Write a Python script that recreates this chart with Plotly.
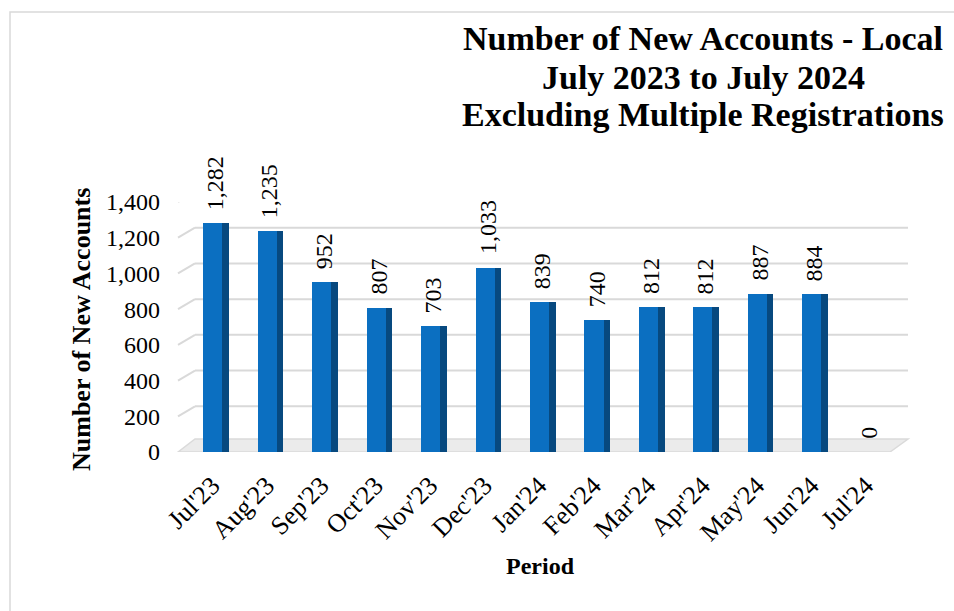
import plotly.graph_objects as go

categories = ["Jul'23", "Aug'23", "Sep'23", "Oct'23", "Nov'23", "Dec'23", "Jan'24",
              "Feb'24", "Mar'24", "Apr'24", "May'24", "Jun'24", "Jul'24"]
new_accounts = [1282, 1235, 952, 807, 703, 1033, 839, 740, 812, 812, 887, 884, 0]
y_ticks = [0, 200, 400, 600, 800, 1000, 1200, 1400]
y_tick_labels = ["0", "200", "400", "600", "800", "1,000", "1,200", "1,400"]
title_lines = ["Number of New Accounts - Local", "July 2023 to July 2024",
               "Excluding Multiple Registrations"]

FONT = "Liberation Serif"
W, H = 954, 611
L, R, T, B = 185, 61, 202, 159
PLOT_H = H - T - B
PLOT_W = W - L - R

def px_x(xp):
    return (xp - L) / PLOT_W

def px_y(yp):
    return (H - B - yp) / PLOT_H

fig = go.Figure()

# front face
fig.add_trace(go.Bar(
    x=categories, y=new_accounts, width=0.35, offset=-0.165,
    marker=dict(color="#0B6FC1", line=dict(width=0)), hoverinfo="x+y",
    showlegend=False))
# side face (3D look)
fig.add_trace(go.Bar(
    x=categories, y=new_accounts, width=0.12, offset=0.185,
    marker=dict(color="#07497F", line=dict(width=0)), hoverinfo="skip",
    showlegend=False))

shapes = []
# outer chart frame
shapes.append(dict(type="rect", xref="paper", yref="paper",
                   x0=px_x(10), x1=px_x(W + 20), y0=px_y(12), y1=px_y(H + 20),
                   line=dict(color="#D9D9D9", width=1.5), fillcolor="rgba(0,0,0,0)",
                   layer="below"))
# 3D gridlines (back wall + left wall diagonal)
back_off = 10 * 1400 / PLOT_H
for v in y_ticks[1:]:
    shapes.append(dict(type="line", xref="paper", yref="y",
                       x0=px_x(178), x1=px_x(195), y0=v, y1=v + back_off,
                       line=dict(color="#D9D9D9", width=2), layer="below"))
    shapes.append(dict(type="line", xref="paper", yref="y",
                       x0=px_x(195), x1=px_x(908), y0=v + back_off, y1=v + back_off,
                       line=dict(color="#D9D9D9", width=2), layer="below"))
# floor
fx0, fx1, bx0, bx1 = px_x(178), px_x(890), px_x(195), px_x(908)
shapes.append(dict(type="path", xref="paper", yref="y",
                   path=f"M {fx0},0 L {bx0},{back_off*1.3} L {bx1},{back_off*1.3} L {fx1},0 Z",
                   fillcolor="#EBEBEB", line=dict(color="#DADADA", width=1.5), layer="below"))

annotations = []
# data labels
for c, v in zip(categories, new_accounts):
    annotations.append(dict(x=c, y=v, xref="x", yref="y", text=f"{v:,}",
                            textangle=-90, showarrow=False, yanchor="bottom",
                            xshift=3, yshift=11,
                            font=dict(family=FONT, size=24, color="#000000")))
# title lines
for line, yp in zip(title_lines, [38, 77, 115]):
    annotations.append(dict(x=px_x(703), y=px_y(yp), xref="paper", yref="paper",
                            text=f"<b>{line}</b>", showarrow=False,
                            xanchor="center", yanchor="middle",
                            font=dict(family=FONT, size=34, color="#000000")))
# axis titles
annotations.append(dict(x=px_x(81), y=px_y(330), xref="paper", yref="paper",
                        text="<b>Number of New Accounts</b>", textangle=-90,
                        showarrow=False, xanchor="center", yanchor="middle",
                        font=dict(family=FONT, size=26, color="#000000")))
annotations.append(dict(x=px_x(540), y=px_y(566), xref="paper", yref="paper",
                        text="<b>Period</b>", showarrow=False,
                        xanchor="center", yanchor="middle",
                        font=dict(family=FONT, size=24, color="#000000")))

fig.update_layout(
    width=W, height=H,
    margin=dict(l=L, r=R, t=T, b=B),
    paper_bgcolor="#FFFFFF", plot_bgcolor="rgba(0,0,0,0)",
    barmode="overlay", bargap=0,
    shapes=shapes, annotations=annotations,
    font=dict(family=FONT, color="#000000"),
)
fig.update_xaxes(type="category", categoryorder="array", categoryarray=categories,
                 range=[-0.5, len(categories) - 0.5],
                 tickangle=-45, tickfont=dict(family=FONT, size=26, color="#000000"),
                 showgrid=False, showline=False, zeroline=False, ticks="",
                 ticklabelstandoff=12)
fig.update_yaxes(range=[0, 1400], tickvals=y_ticks, ticktext=y_tick_labels,
                 tickfont=dict(family=FONT, size=24, color="#000000"),
                 showgrid=False, showline=False, zeroline=False, ticks="",
                 ticklabelstandoff=24)

fig.write_html("out.html", config={"displayModeBar": False},
               post_script="document.body.style.margin='0px';")
